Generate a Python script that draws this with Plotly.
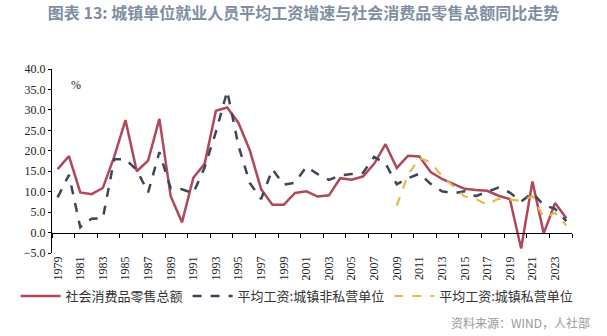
import plotly.graph_objects as go

years = list(range(1979, 2025))
retail = [15.5, 18.7, 9.8, 9.4, 10.9, 18.5, 27.5, 15.0, 17.6, 27.8,
          8.9, 2.5, 13.4, 16.8, 29.8, 30.6, 26.8, 20.1, 10.6, 6.8,
          6.8, 9.7, 10.1, 8.8, 9.1, 13.3, 12.9, 13.7, 16.8, 21.6,
          15.8, 18.8, 18.6, 14.8, 13.1, 12.0, 10.7, 10.4, 10.2, 9.0,
          8.2, -3.9, 12.5, -0.2, 7.2, 3.5]
wage_nonpriv = [8.6, 14.1, 1.3, 3.4, 3.5, 17.9, 17.9, 15.3, 9.8, 19.7,
                10.8, 10.6, 9.6, 15.9, 24.6, 34.6, 21.2, 12.1, 8.2, 15.5,
                11.7, 12.2, 16.1, 14.3, 12.9, 14.0, 14.3, 14.6, 18.5, 16.9,
                11.8, 13.3, 14.4, 11.9, 10.1, 9.6, 10.1, 8.9, 10.0, 11.0,
                9.8, 7.6, 9.7, 6.7, 5.8, 2.8]
priv_years = list(range(2009, 2025))
wage_priv = [6.6, 14.1, 18.3, 17.1, 13.8, 11.3, 8.8, 8.2, 6.8, 8.3,
             8.1, 7.7, 8.9, 3.7, 4.8, 1.7]
label_years = list(range(1979, 2024, 2))
tick_bounds = [y + 0.5 for y in range(1978, 2025, 2)]

serif = "Liberation Serif, Times New Roman, serif"
cjk = "Noto Sans CJK SC, sans-serif"

fig = go.Figure()
fig.add_trace(go.Scatter(x=years, y=retail, mode="lines", name="社会消费品零售总额",
                         line=dict(color="#b0475b", width=2.5)))
fig.add_trace(go.Scatter(x=years, y=wage_nonpriv, mode="lines", name="平均工资:城镇非私营单位",
                         line=dict(color="#3c4658", width=2.5, dash="dash")))
fig.add_trace(go.Scatter(x=priv_years, y=wage_priv, mode="lines", name="平均工资:城镇私营单位",
                         line=dict(color="#e8b94f", width=2.2, dash="dash")))
fig.add_trace(go.Scatter(x=[years[0]], y=[None], xaxis="x2", showlegend=False,
                         hoverinfo="skip", mode="lines"))

fig.update_layout(
    width=607, height=336,
    margin=dict(l=52, r=35, t=69, b=83),
    paper_bgcolor="white", plot_bgcolor="white",
    title=dict(text="<b>图表 13: 城镇单位就业人员平均工资增速与社会消费品零售总额同比走势</b>",
               x=0.5, xanchor="center", y=0.96, yanchor="middle",
               font=dict(family=cjk, size=16, color="#7f8ea3")),
    xaxis=dict(range=[1978.5, 2024.5], tickmode="array", tickvals=label_years,
               ticktext=[str(y) for y in label_years], tickangle=-90,
               ticks="", showline=False, showgrid=False, zeroline=False,
               tickfont=dict(family=serif, size=12, color="#222")),
    xaxis2=dict(range=[1978.5, 2024.5], overlaying="x", anchor="free", position=5/45,
                tickmode="array", tickvals=tick_bounds, ticks="outside", ticklen=4,
                tickcolor="#000", showticklabels=False, showline=True,
                linecolor="#000", linewidth=1.3, showgrid=False, zeroline=False),
    yaxis=dict(range=[-5, 40], dtick=5, tickformat=".1f", showgrid=False,
               zeroline=False, showline=True, linecolor="#000", linewidth=1.2,
               ticks="outside", ticklen=3, tickcolor="#000",
               tickfont=dict(family=serif, size=12, color="#222")),
    legend=dict(orientation="h", x=-0.07, xanchor="left", y=-0.234, yanchor="middle",
                font=dict(family=cjk, size=13, color="#333"),
                itemwidth=40, tracegroupgap=0, bgcolor="rgba(0,0,0,0)"),
    showlegend=True,
)

fig.add_annotation(text="%", xref="paper", yref="paper", x=(69 - 52) / 519.7, y=(253 - 76) / 184,
                   showarrow=False, font=dict(family=serif, size=12, color="#222"))
fig.add_annotation(text="资料来源：WIND，人社部", xref="paper", yref="paper",
                   x=(592 - 52) / 519.7, y=(253 - 322) / 184, xanchor="right", yanchor="middle",
                   showarrow=False, font=dict(family=cjk, size=12, color="#999"))

fig.write_html("out.html")
